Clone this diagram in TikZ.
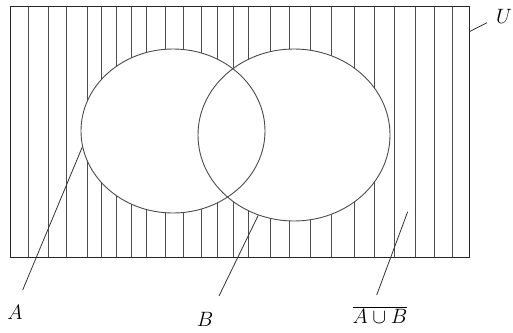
\documentclass[tikz,border=0pt]{standalone}
\usetikzlibrary{shapes.geometric}

\begin{document}
\begin{tikzpicture}[
  x=1pt, y=-1pt,
  font=\huge,
  frame/.style={draw=black!85, line width=1pt, inner sep=0pt, minimum width=459.8pt, minimum height=251pt},
  hatch/.style={draw=black!70, line width=1pt},
  setfill/.style={ellipse, fill=white, inner sep=0pt},
  setrim/.style={ellipse, draw=black!70, line width=.9pt, inner sep=0pt},
  sizeA/.style={minimum width=184pt, minimum height=164pt},
  sizeB/.style={minimum width=192pt, minimum height=172pt},
  leader/.style={draw=black!80, line width=.8pt}
]
  \useasboundingbox (0,0) rectangle (513,332);

  % universe with hatching
  \foreach \x in {28,48.3,66,87.3,101.7,116.7,131,146.7,165,183.3,201.7,217.3,233,248.3,270,289.3,310,331.7,354,374,394.3,415,434,452.7}
    \draw[hatch] (\x,6) -- (\x,257);

  % the two sets
  \node[setfill, sizeA] (Afill) at (173,131) {};
  \node[setfill, sizeB] (Bfill) at (294,135) {};
  \node[setrim, sizeA] (A) at (Afill) {};
  \node[setrim, sizeB] (B) at (Bfill) {};
  \node[frame, anchor=north west] (universe) at (9.5,6) {};

  % labels
  \node (labA) at (15,312) {$A$};
  \node (labB) at (205,319) {$B$};
  \node (labAB) at (380,315) {$\overline{A\cup B}$};
  \node (labU) at (504,16) {$U$};

  \coordinate (a1) at (22.7,290);
  \coordinate (b1) at (219,296);
  \coordinate (c0) at (407.7,211.7);
  \coordinate (c1) at (376.7,295);
  \coordinate (u0) at (469.3,31.7);
  \coordinate (u1) at (487,22.7);

  \draw[leader] (A.190) -- (a1);
  \draw[leader] (B.246) -- (b1);
  \draw[leader] (c0) -- (c1);
  \draw[leader] (u0) -- (u1);
\end{tikzpicture}
\end{document}
